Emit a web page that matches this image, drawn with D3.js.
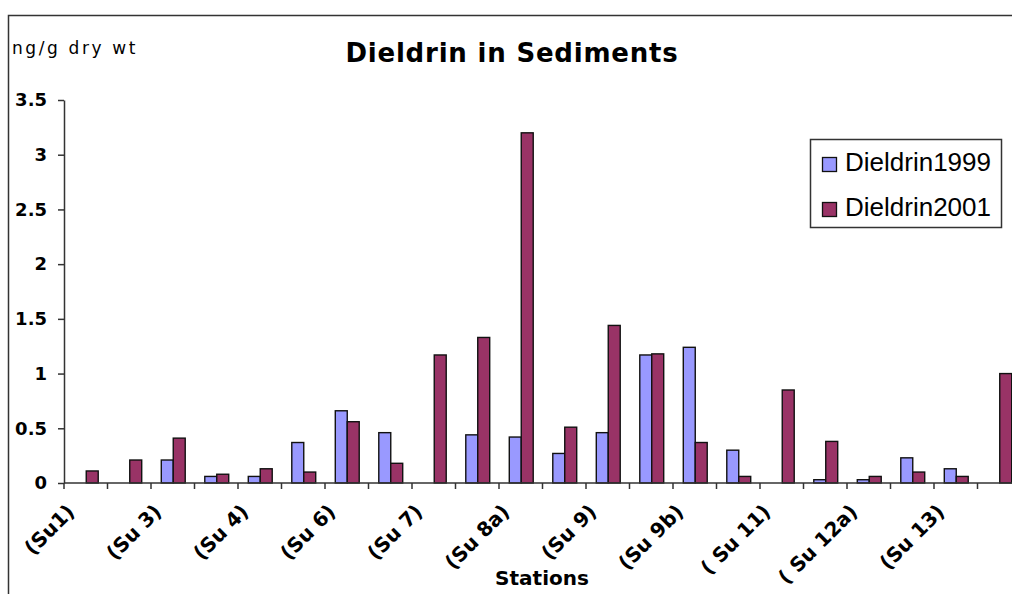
<!DOCTYPE html>
<html>
<head>
<meta charset="utf-8">
<script src="https://cdn.jsdelivr.net/npm/d3@7"></script>
<style>
  html, body { margin: 0; padding: 0; background: #fff; }
  svg { display: block; }
  text { font-family: Arial, "Liberation Sans", sans-serif; fill: #000; }
  .bold { font-family: "DejaVu Sans", Verdana, sans-serif; font-weight: bold; }
</style>
</head>
<body>
<svg id="chart" width="1012" height="594"></svg>
<script>
// Dieldrin concentrations (ng/g dry wt) at 22 sediment stations; null = no sample
const stationCount = 22;
const stationLabels = ["(Su1)", "(Su 3)", "(Su 4)", "(Su 6)", "(Su 7)", "(Su 8a)",
                       "(Su 9)", "(Su 9b)", "( Su 11)", "( Su 12a)", "(Su 13)"];
const seriesNames = ["Dieldrin1999", "Dieldrin2001"];
const dieldrin1999 = [null, null, 0.21, 0.06, 0.06, 0.37, 0.66, 0.46, null, 0.44, 0.42,
                      0.27, 0.46, 1.17, 1.24, 0.30, null, 0.03, 0.03, 0.23, 0.13, null];
const dieldrin2001 = [0.11, 0.21, 0.41, 0.08, 0.13, 0.10, 0.56, 0.18, 1.17, 1.33, 3.20,
                      0.51, 1.44, 1.18, 0.37, 0.06, 0.85, 0.38, 0.06, 0.10, 0.06, 1.00];
const yTicks = [0, 0.5, 1, 1.5, 2, 2.5, 3, 3.5];

const colors = { Dieldrin1999: "#9999ff", Dieldrin2001: "#993366" };
const axisColor = "#333";

const svg = d3.select("#chart");
const plot = { left: 64, top: 100, bottom: 483, step: 43.5 };
const gapRatio = 0.45;

// Outer chart frame (left and top edges)
svg.append("path")
  .attr("d", "M8.5,594 V15.5 H1012")
  .attr("fill", "none").attr("stroke", axisColor).attr("stroke-width", 1.5);

const x = d3.scaleBand()
  .domain(d3.range(stationCount))
  .range([plot.left, plot.left + plot.step * stationCount])
  .paddingInner(gapRatio)
  .paddingOuter(gapRatio / 2);

const xSeries = d3.scaleBand().domain(seriesNames).range([0, x.bandwidth()]);

const y = d3.scaleLinear().domain([0, 3.5]).range([plot.bottom, plot.top]);

// Bars
const rows = d3.range(stationCount).map(i => ({
  i, values: [
    { key: "Dieldrin1999", v: dieldrin1999[i] },
    { key: "Dieldrin2001", v: dieldrin2001[i] }
  ]
}));

svg.append("g").selectAll("g").data(rows).join("g")
  .attr("transform", d => `translate(${x(d.i) + 0.5},0)`)
  .selectAll("rect").data(d => d.values.filter(e => e.v != null)).join("rect")
  .attr("x", e => xSeries(e.key))
  .attr("width", xSeries.bandwidth())
  .attr("y", e => y(e.v))
  .attr("height", e => y(0) - y(e.v))
  .attr("fill", e => colors[e.key])
  .attr("stroke", "#111").attr("stroke-width", 1.4);

// Y axis
const yAxis = svg.append("g")
  .attr("transform", `translate(${plot.left},0)`)
  .call(d3.axisLeft(y).tickValues(yTicks).tickSize(6).tickSizeOuter(0).tickPadding(11)
        .tickFormat(d => String(d)));
yAxis.select(".domain").attr("stroke", axisColor).attr("stroke-width", 1.5);
yAxis.selectAll(".tick line").attr("stroke", axisColor).attr("stroke-width", 1.5);
yAxis.selectAll(".tick text")
  .attr("class", "bold")
  .style("font-size", "18px")
  .attr("fill", "#000");

// X axis line with ticks at station boundaries
const boundaries = d3.range(stationCount + 1).map(i =>
  i < stationCount ? x(i) - x.step() * gapRatio / 2 : x(i - 1) + x.bandwidth() + x.step() * gapRatio / 2);
const xAxis = svg.append("g");
xAxis.append("line")
  .attr("x1", plot.left).attr("x2", boundaries[stationCount])
  .attr("y1", y(0)).attr("y2", y(0))
  .attr("stroke", axisColor).attr("stroke-width", 1.5);
xAxis.selectAll("line.tk").data(boundaries).join("line")
  .attr("class", "tk")
  .attr("x1", d => d).attr("x2", d => d)
  .attr("y1", y(0)).attr("y2", y(0) + 6)
  .attr("stroke", axisColor).attr("stroke-width", 1.5);

// Station labels on every other station
const labelled = d3.range(0, stationCount, 2);
const xLabels = svg.append("g")
  .attr("transform", `translate(0,${y(0)})`)
  .call(d3.axisBottom(x).tickValues(labelled).tickSize(0)
        .tickFormat(i => stationLabels[i / 2]));
xLabels.select(".domain").remove();
xLabels.selectAll(".tick text")
  .attr("class", "bold")
  .attr("x", 0).attr("y", 0).attr("dy", 0)
  .attr("text-anchor", "end")
  .attr("transform", "translate(-10,30) rotate(-45)")
  .style("font-size", "20px")
  .attr("fill", "#000");

// Title and axis captions
svg.append("text")
  .attr("class", "bold")
  .attr("x", 512).attr("y", 62).attr("text-anchor", "middle")
  .style("font-size", "26px").style("letter-spacing", "0.8px")
  .text("Dieldrin in Sediments");

svg.append("text")
  .attr("x", 12).attr("y", 54)
  .style("font-family", "'DejaVu Sans', sans-serif")
  .style("font-size", "17px").style("letter-spacing", "2.6px")
  .text("ng/g dry wt");

svg.append("text")
  .attr("class", "bold")
  .attr("x", 542).attr("y", 585).attr("text-anchor", "middle")
  .style("font-size", "20px")
  .text("Stations");

// Legend
const legend = svg.append("g");
legend.append("rect")
  .attr("x", 810.5).attr("y", 139.5).attr("width", 191).attr("height", 88)
  .attr("fill", "#fff").attr("stroke", axisColor).attr("stroke-width", 1.5);
const items = legend.selectAll("g.item").data(seriesNames).join("g")
  .attr("class", "item")
  .attr("transform", (d, i) => `translate(0,${i * 45})`);
items.append("rect")
  .attr("x", 822.5).attr("y", 157.5).attr("width", 14).attr("height", 14)
  .attr("fill", d => colors[d]).attr("stroke", "#111").attr("stroke-width", 1.3);
items.append("text")
  .attr("x", 845).attr("y", 171)
  .style("font-size", "26px")
  .text(d => d);
</script>
</body>
</html>
